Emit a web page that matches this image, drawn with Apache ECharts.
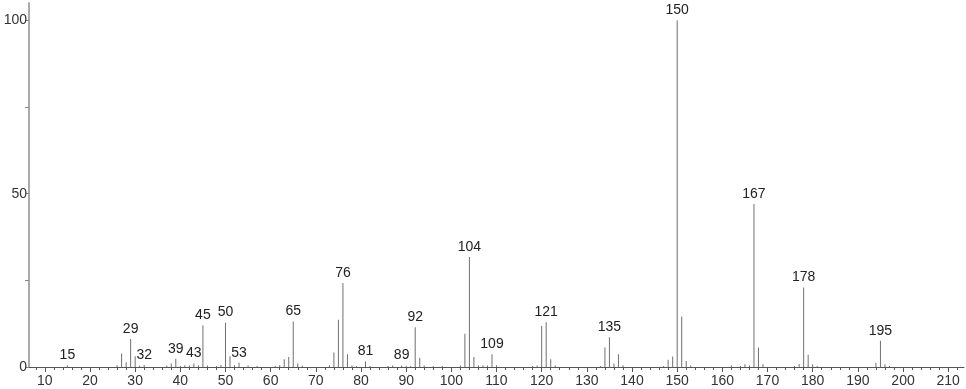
<!DOCTYPE html>
<html><head><meta charset="utf-8">
<script src="https://cdn.jsdelivr.net/npm/echarts@6/dist/echarts.min.js"></script>
<style>html,body{margin:0;padding:0;background:#fff}#c{width:966px;height:389px}</style>
</head><body><div id="c"></div>
<script>
var masses = [15,26,27,28,29,30,31,32,37,38,39,40,41,42,43,44,45,46,48,49,50,51,52,53,55,57,61,62,63,64,65,66,67,73,74,75,76,77,78,79,81,82,86,87,89,90,91,92,93,94,96,98,102,103,104,105,106,107,108,109,110,118,119,120,121,122,123,133,134,135,136,137,138,147,148,149,150,151,152,153,162,164,165,166,167,168,169,176,177,178,179,180,181,194,195,196,197];
var intensities = [0.4,0.5,3.9,1.4,8.1,3.1,0.4,0.6,0.4,1.0,2.4,0.3,0.5,0.4,1.0,0.5,12.0,0.4,0.3,0.6,12.8,3.1,0.5,1.2,0.4,0.3,0.3,0.6,2.2,2.9,13.1,1.0,0.4,0.5,4.2,13.6,24.2,3.7,0.4,0.3,1.6,0.3,0.3,0.4,0.4,0.3,0.3,11.5,2.7,0.4,0.3,0.3,0.4,9.6,31.7,2.9,0.4,0.5,0.4,3.7,0.5,0.3,0.4,11.8,12.9,2.2,0.4,0.3,5.6,8.6,1.0,3.7,0.5,0.3,2.1,3.0,100,14.6,1.7,0.4,0.4,0.3,0.8,0.4,47.0,5.6,0.8,0.3,0.9,22.9,3.5,0.8,0.3,1.2,7.6,0.8,0.3];
var labelledMasses = [15,29,32,39,43,45,50,53,65,76,81,89,92,104,109,121,135,150,167,178,195];
var majorTicks = [10,20,30,40,50,60,70,80,90,100,110,120,130,140,150,160,170,180,190,200,210];
var minorTicks = [];
for (var t = 8; t <= 212; t += 2) minorTicks.push(t);
var yTickValues = [0,25,50,75,100];
var yLabelValues = [0,50,100];

var data = masses.map(function(m, i){
  var item = {value:[m, intensities[i]]};
  if (labelledMasses.indexOf(m) >= 0) item.label = {show:true};
  return item;
});

var font = 'Liberation Sans';
var chart = echarts.init(document.getElementById('c'), null, {renderer:'canvas'});
chart.setOption({
  animation:false,
  grid:{left:29, right:2, top:3, bottom:22, containLabel:false},
  xAxis:[{
    type:'value', min:6.5, max:213.5,
    axisLine:{show:true, onZero:false, lineStyle:{color:'#555', width:1}},
    axisTick:{show:true, length:5, lineStyle:{color:'#555'}, customValues:majorTicks},
    axisLabel:{show:true, customValues:majorTicks, color:'#333', fontSize:14, fontFamily:font, margin:7},
    splitLine:{show:false}
  },{
    type:'value', min:6.5, max:213.5, position:'bottom',
    axisLine:{show:false},
    axisTick:{show:true, length:3, lineStyle:{color:'#555'}, customValues:minorTicks},
    axisLabel:{show:false},
    splitLine:{show:false}
  }],
  yAxis:{
    type:'value', min:0, max:105,
    axisLine:{show:true, lineStyle:{color:'#aaa', width:2}},
    axisTick:{show:true, length:4, lineStyle:{color:'#888'}, customValues:yTickValues},
    axisLabel:{show:true, customValues:yLabelValues, color:'#333', fontSize:14, fontFamily:font, margin:2},
    splitLine:{show:false}
  },
  series:[{
    type:'bar', xAxisIndex:0, barWidth:1,
    itemStyle:{color:'#707070'},
    label:{show:false, position:'top', distance:3, color:'#222', fontSize:14, fontFamily:font,
      formatter:function(p){return String(p.value[0]);}},
    data:data
  }]
});
</script></body></html>
